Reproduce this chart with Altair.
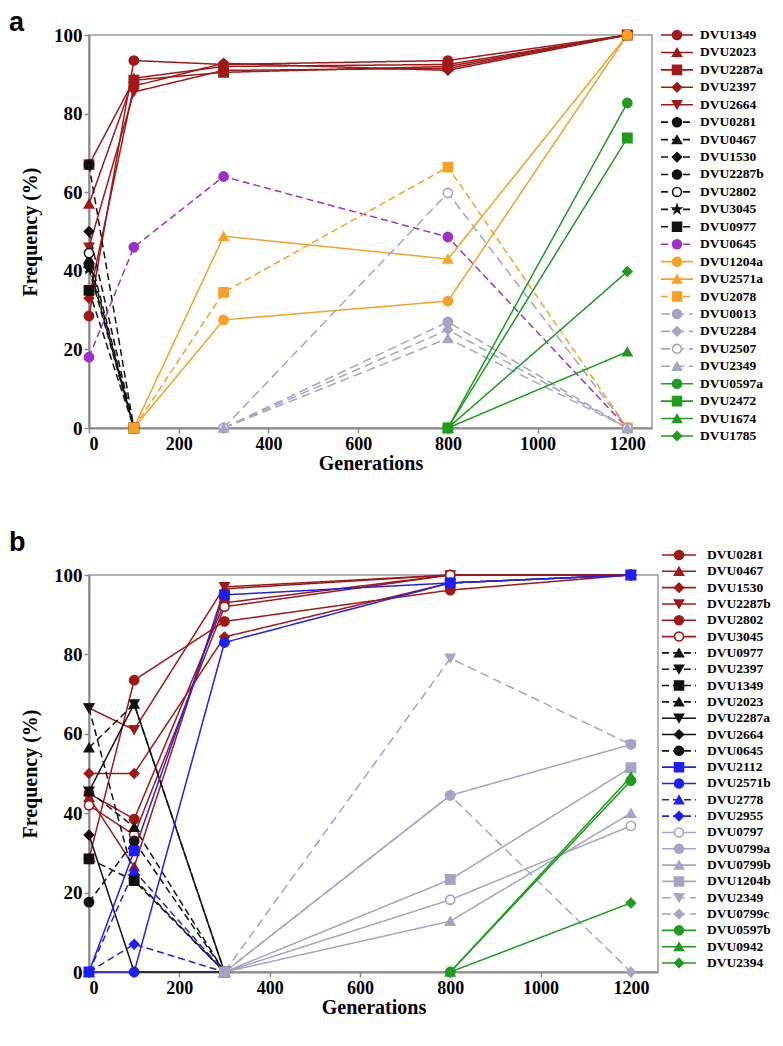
import altair as alt
import pandas as pd

X = [0, 100, 300, 800, 1200]
N = None

# ---------------- Panel a data ----------------
a_red_names = ["DVU1349", "DVU2023", "DVU2287a", "DVU2397", "DVU2664"]
a_red_vals = [[28.5, 93.5, 92.5, 93.5, 100], [57, 89, 92, 92.5, 100],
              [67, 88.5, 90.5, 92, 100], [33, 87, 92.8, 91, 100],
              [46, 85.5, 91, 91.5, 100]]
a_blk_names = ["DVU0281", "DVU0467", "DVU1530", "DVU2287b", "DVU2802", "DVU3045", "DVU0977"]
a_blk_vals = [[67, 0], [43, 0], [50, 0], [41.5, 0], [44.5, 0], [40.5, 0], [35, 0]]
a_pur_names = ["DVU0645"]
a_pur_vals = [[18, 46, 64, 48.6, 0]]
a_org_names = ["DVU1204a", "DVU2571a", "DVU2078"]
a_org_vals = [[N, 0, 27.5, 32.3, 100], [N, 0, 48.8, 43, 100], [N, 0, 34.5, 66.4, 0]]
a_lav_names = ["DVU0013", "DVU2284", "DVU2507", "DVU2349"]
a_lav_vals = [[N, N, 0, 27, 0], [N, N, 0, 25, 0], [N, N, 0, 59.8, 0], [N, N, 0, 22.8, 0]]
a_grn_names = ["DVU0597a", "DVU2472", "DVU1674", "DVU1785"]
a_grn_vals = [[N, N, N, 0, 82.7], [N, N, N, 0, 73.8], [N, N, N, 0, 19.4], [N, N, N, 0, 39.8]]

# ---------------- Panel b data ----------------
b_red_names = ["DVU0281", "DVU0467", "DVU1530", "DVU2287b", "DVU2802", "DVU3045"]
b_red_vals = [[28.5, 73.5, 88.3, 96.2, 100], [44, 26.5, 96.5, 100, 100],
              [50, 50, 84.4, 98, 100], [66.5, 61, 97, 100, 100],
              [45, 38.5, 93, 100, 100], [42, 34.5, 92, 100, 100]]
b_blk_names = ["DVU0977", "DVU2397", "DVU1349", "DVU2023", "DVU2287a", "DVU2664", "DVU0645"]
b_blk_vals = [[56.5, 67.5, 0], [66.5, 23.5, 0], [28.5, 23, 0], [45.5, 36.5, 0],
              [45.5, 67.5, 0], [34.5, 0, 0], [17.6, 33, 0]]
b_blu_names = ["DVU2112", "DVU2571b", "DVU2778", "DVU2955"]
b_blu_vals = [[0, 30.5, 95, 98, 100], [0, 0, 83, 98, 100], [0, 25.5, 0], [0, 7, 0]]
b_lav_names = ["DVU0797", "DVU0799a", "DVU0799b", "DVU1204b", "DVU2349", "DVU0799c"]
b_lav_vals = [[N, N, 0, 18.2, 36.8], [N, N, 0, 44.5, 57.3], [N, N, 0, 12.8, 40],
              [N, N, 0, 23.3, 51.5], [N, N, 0, 79, 57.3], [N, N, 0, 44.5, 0]]
b_grn_names = ["DVU0597b", "DVU0942", "DVU2394"]
b_grn_vals = [[N, N, N, 0, 48.2], [N, N, N, 0, 49.2], [N, N, N, 0, 17.4]]

# ---------------- styles ----------------
RED, BLK, PUR, ORG, LAV, GRN, BLU = ("#a01818", "#111111", "#a030c8", "#f7a226",
                                     "#a4a4c4", "#1f9b1f", "#1f1ff2")
STAR = ("M0,-1L0.235,-0.324L0.951,-0.309L0.38,0.124L0.588,0.809L0,0.4L-0.588,0.809"
        "L-0.38,0.124L-0.951,-0.309L-0.235,-0.324Z")
SOLID, DASH, LDASH = [1, 0], [7, 4], [9, 5]

groups_a = [
    (a_red_names, a_red_vals, RED, ["circle", "triangle-up", "square", "diamond", "triangle-down"],
     [SOLID] * 5, [False] * 5),
    (a_blk_names, a_blk_vals, BLK, ["circle", "triangle-up", "diamond", "circle", "circle", STAR, "square"],
     [DASH] * 7, [False, False, False, False, True, False, False]),
    (a_pur_names, a_pur_vals, PUR, ["circle"], [DASH], [False]),
    (a_org_names, a_org_vals, ORG, ["circle", "triangle-up", "square"], [SOLID, SOLID, DASH], [False] * 3),
    (a_lav_names, a_lav_vals, LAV, ["circle", "diamond", "circle", "triangle-up"], [LDASH] * 4,
     [False, False, True, False]),
    (a_grn_names, a_grn_vals, GRN, ["circle", "square", "triangle-up", "diamond"], [SOLID] * 4, [False] * 4),
]
groups_b = [
    (b_red_names, b_red_vals, RED, ["circle", "triangle-up", "diamond", "triangle-down", "circle", "circle"],
     [SOLID] * 6, [False] * 5 + [True]),
    (b_blk_names, b_blk_vals, BLK, ["triangle-up", "triangle-down", "square", "triangle-up", "triangle-down",
                                    "diamond", "circle"],
     [DASH, DASH, DASH, DASH, SOLID, SOLID, DASH], [False] * 7),
    (b_blu_names, b_blu_vals, BLU, ["square", "circle", "triangle-up", "diamond"],
     [SOLID, SOLID, DASH, DASH], [False] * 4),
    (b_lav_names, b_lav_vals, LAV, ["circle", "circle", "triangle-up", "square", "triangle-down", "diamond"],
     [SOLID, SOLID, SOLID, SOLID, LDASH, LDASH], [True] + [False] * 5),
    (b_grn_names, b_grn_vals, GRN, ["circle", "triangle-up", "diamond"], [SOLID] * 3, [False] * 3),
]

SERIF = "Liberation Serif"


def panel(groups, letter, xmax, W, H, leg_range, dx, letter_y):
    names, colors, shapes, dashes, fills, rows = [], [], [], [], [], []
    for g_names, g_vals, col, g_shapes, g_dash, g_open in groups:
        for n, v, s, d, o in zip(g_names, g_vals, g_shapes, g_dash, g_open):
            idx = len(names)
            names.append(n)
            colors.append(col)
            shapes.append(s)
            dashes.append(d)
            fills.append("#ffffff" if o else col)
            for x, y in zip(X, v):
                if y is not None:
                    rows.append({"series": n, "x": x, "y": y, "idx": idx})
    df = pd.DataFrame(rows)
    leg = pd.DataFrame({"series": names, "idx": list(range(len(names)))})

    cs = alt.Scale(domain=names, range=colors)
    fs = alt.Scale(domain=names, range=fills)
    ss = alt.Scale(domain=names, range=shapes)
    ds = alt.Scale(domain=names, range=dashes)

    xs = alt.Scale(domain=[0, xmax], nice=False, zero=False)
    ys = alt.Scale(domain=[0, 100], nice=False)

    lines = alt.Chart(df).mark_line(strokeWidth=1.5).encode(
        x=alt.X("x:Q", scale=xs, axis=alt.Axis(values=[0, 200, 400, 600, 800, 1000, 1200],
                                               format="d", title="Generations")),
        y=alt.Y("y:Q", scale=ys, axis=alt.Axis(values=[0, 20, 40, 60, 80, 100], format="d",
                                               title="Frequency (%)")),
        color=alt.Color("series:N", scale=cs, legend=None),
        strokeDash=alt.StrokeDash("series:N", scale=ds, legend=None),
        detail="series:N",
    )
    points = alt.Chart(df).mark_point(filled=True, size=85, strokeWidth=1.6, opacity=1).encode(
        x=alt.X("x:Q", scale=xs),
        y=alt.Y("y:Q", scale=ys, axis=None),
        fill=alt.Fill("series:N", scale=fs, legend=None),
        stroke=alt.Stroke("series:N", scale=cs, legend=None),
        shape=alt.Shape("series:N", scale=ss, legend=None),
        order=alt.Order("idx:Q"),
    )
    ly = alt.Y("series:N", sort=names, axis=None,
               scale=alt.Scale(type="point", range=leg_range, padding=0))
    leg_rule = alt.Chart(leg).mark_rule(strokeWidth=1.6).encode(
        x=alt.value(W + dx[0]), x2=alt.value(W + dx[1]), y=ly,
        color=alt.Color("series:N", scale=cs, legend=None),
        strokeDash=alt.StrokeDash("series:N", scale=ds, legend=None),
    )
    leg_pt = alt.Chart(leg).mark_point(filled=True, size=80, strokeWidth=1.6, opacity=1).encode(
        x=alt.value(W + dx[2]), y=ly,
        fill=alt.Fill("series:N", scale=fs, legend=None),
        stroke=alt.Stroke("series:N", scale=cs, legend=None),
        shape=alt.Shape("series:N", scale=ss, legend=None),
    )
    leg_txt = alt.Chart(leg).mark_text(align="left", baseline="middle", font=SERIF,
                                       fontWeight="bold", fontSize=13.5, color="black").encode(
        x=alt.value(W + dx[3]), y=ly, text="series:N",
    )
    lab = alt.Chart(pd.DataFrame({"t": [letter]})).mark_text(
        align="left", baseline="top", font="Liberation Sans", fontWeight="bold",
        fontSize=27, color="black").encode(x=alt.value(-80), y=alt.value(letter_y), text="t:N")

    return alt.layer(lines, points, leg_rule, leg_pt, leg_txt, lab).resolve_scale(
        y="independent").properties(width=W, height=H)


pa = panel(groups_a, "a", 1255, 563, 393, [0, 401], (9, 41, 25, 48), -25)
pb = panel(groups_b, "b", 1260, 569, 397, [-20, 388], (4, 38, 21, 49), -45)

chart = alt.vconcat(pa, pb, spacing=54).resolve_scale(
    x="independent", y="independent", color="independent", fill="independent",
    stroke="independent", shape="independent", strokeDash="independent",
).properties(padding=0).configure_axis(
    labelFont=SERIF, labelFontWeight="bold", labelFontSize=19, labelColor="black",
    titleFont=SERIF, titleFontWeight="bold", titleFontSize=20, titleColor="black",
    domainColor="#8a8a8a", domainWidth=2, tickColor="#8a8a8a", tickWidth=1.5, tickSize=5,
    grid=False, labelPadding=2,
).configure_axisY(titlePadding=13).configure_axisX(titlePadding=0, labelFontSize=18).configure_view(
    stroke="#9a9a9a", strokeWidth=1.5)

chart.save("out.html", embed_options={"renderer": "svg", "actions": False})
